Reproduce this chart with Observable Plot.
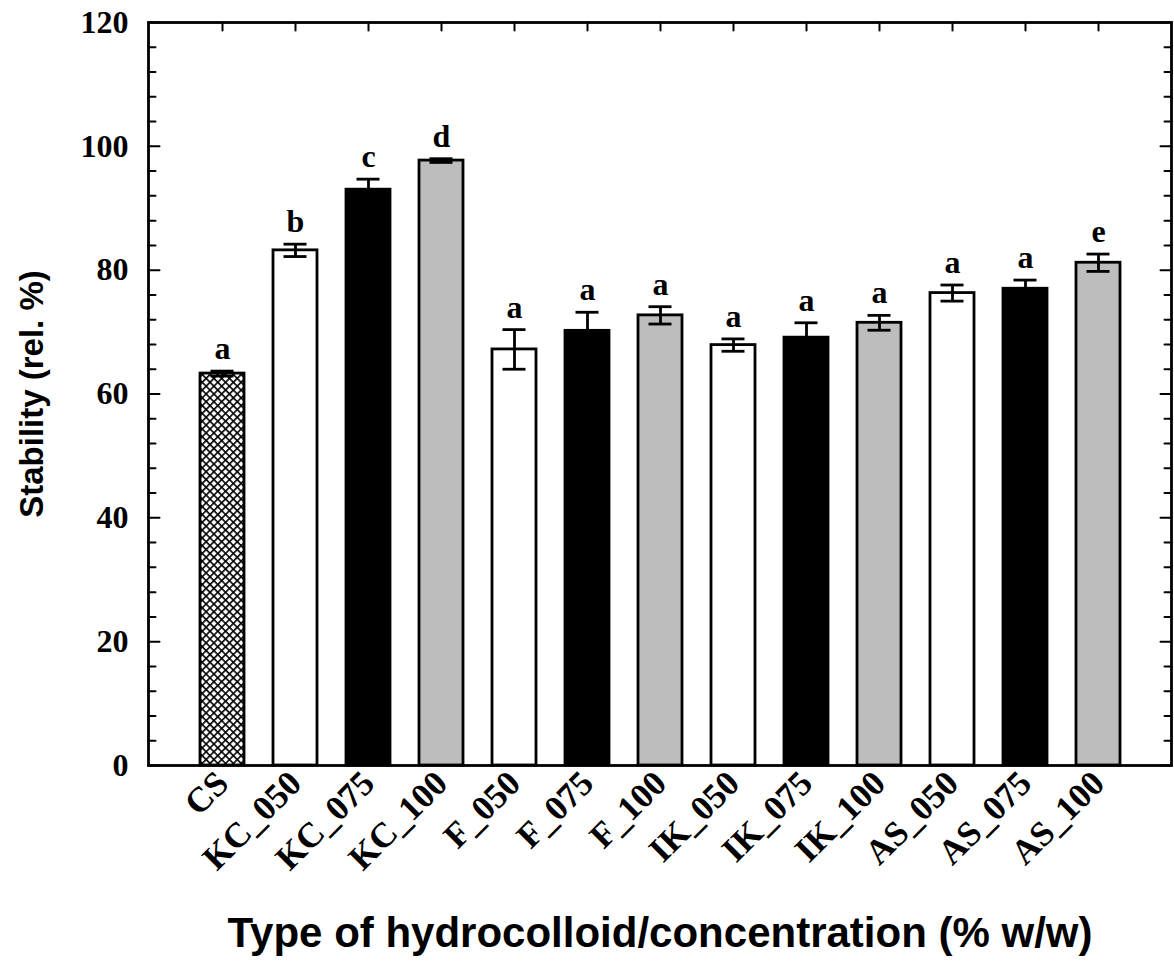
<!DOCTYPE html>
<html>
<head>
<meta charset="utf-8">
<script src="https://cdn.jsdelivr.net/npm/d3@7"></script>
<script src="https://cdn.jsdelivr.net/npm/@observablehq/plot@0.6"></script>
<style>
  html, body { margin: 0; padding: 0; background: #fff; }
</style>
</head>
<body>
<div id="chart"></div>
<script>
const categories = ["CS", "KC_050", "KC_075", "KC_100", "F_050", "F_075", "F_100", "IK_050", "IK_075", "IK_100", "AS_050", "AS_075", "AS_100"];
const values = [63.3, 83.2, 93.0, 97.7, 67.2, 70.2, 72.7, 67.9, 69.1, 71.5, 76.3, 77.0, 81.2];
const errors = [0.4, 1.0, 1.7, 0.3, 3.2, 3.0, 1.4, 1.0, 2.4, 1.2, 1.3, 1.4, 1.4];
const letters = ["a", "b", "c", "d", "a", "a", "a", "a", "a", "a", "a", "a", "e"];
const fills = ["url(#cs-hatch)", "#ffffff", "#000000", "#bdbdbd", "#ffffff", "#000000", "#bdbdbd", "#ffffff", "#000000", "#bdbdbd", "#ffffff", "#000000", "#bdbdbd"];
const yTicks = [0, 20, 40, 60, 80, 100, 120];
const yMinorTicks = [4, 8, 12, 16, 24, 28, 32, 36, 44, 48, 52, 56, 64, 68, 72, 76, 84, 88, 92, 96, 104, 108, 112, 116];
const yTitle = "Stability (rel. %)";
const xTitle = "Type of hydrocolloid/concentration (% w/w)";

const data = categories.map((c, i) => ({cat: c, value: values[i], err: errors[i], letter: letters[i], fill: fills[i]}));

const serif = "'Liberation Serif', 'Times New Roman', serif";
const sans = "'Liberation Sans', Arial, sans-serif";
const tickShape = {draw(context, l) { context.moveTo(0, 0); context.lineTo(0, -l); }};

const svg = Plot.plot({
  width: 1174,
  height: 964,
  marginLeft: 148,
  marginRight: 3,
  marginTop: 22,
  marginBottom: 199,
  x: {type: "band", domain: categories, paddingInner: 0.4, paddingOuter: 0.7, axis: null},
  y: {domain: [0, 120], axis: null},
  color: {type: "identity"},
  marks: [
    Plot.barY(data, {x: "cat", y: "value", fill: "fill", stroke: "#000", strokeWidth: 2.8}),
    Plot.ruleX(data, {x: "cat", y1: d => d.value - d.err, y2: d => d.value + d.err, stroke: "#000", strokeWidth: 2.8}),
    Plot.tickY(data, {x: "cat", y: d => d.value + d.err, inset: 10.5, stroke: "#000", strokeWidth: 2.8}),
    Plot.tickY(data, {x: "cat", y: d => d.value - d.err, inset: 10.5, stroke: "#000", strokeWidth: 2.8}),
    Plot.text(data, {x: "cat", y: d => d.value + d.err, text: "letter", dy: -12, lineAnchor: "bottom", fontFamily: serif, fontWeight: "bold", fontSize: 32, fill: "#000"}),
    Plot.frame({stroke: "#000", strokeWidth: 2.8}),
    Plot.vector(yTicks, {y: d => d, frameAnchor: "left", rotate: 90, length: 11, anchor: "start", shape: tickShape, stroke: "#000", strokeWidth: 2}),
    Plot.vector(yMinorTicks, {y: d => d, frameAnchor: "left", rotate: 90, length: 7, anchor: "start", shape: tickShape, stroke: "#000", strokeWidth: 2}),
    Plot.vector(yTicks, {y: d => d, frameAnchor: "right", rotate: -90, length: 11, anchor: "start", shape: tickShape, stroke: "#000", strokeWidth: 2}),
    Plot.vector(yMinorTicks, {y: d => d, frameAnchor: "right", rotate: -90, length: 7, anchor: "start", shape: tickShape, stroke: "#000", strokeWidth: 2}),
    Plot.vector(categories, {x: d => d, frameAnchor: "top", rotate: 180, length: 8, anchor: "start", shape: tickShape, stroke: "#000", strokeWidth: 2}),
    Plot.axisY({ticks: yTicks, tickSize: 0, tickPadding: 20, label: null, fontFamily: serif, fontWeight: "bold", fontSize: 32, fill: "#000"}),
    Plot.axisX({tickSize: 0, tickPadding: 12, tickRotate: -45, label: null, fontFamily: serif, fontWeight: "bold", fontSize: 35, fill: "#000"}),
    Plot.text([yTitle], {text: d => d, frameAnchor: "left", textAnchor: "middle", lineAnchor: "middle", rotate: -90, dx: -116, fontFamily: sans, fontWeight: "bold", fontSize: 33, fill: "#000"}),
    Plot.text([xTitle], {text: d => d, frameAnchor: "bottom", textAnchor: "middle", lineAnchor: "middle", dy: 168, fontFamily: sans, fontWeight: "bold", fontSize: 42, fill: "#000"})
  ]
});

const ns = "http://www.w3.org/2000/svg";
const defs = document.createElementNS(ns, "defs");
defs.innerHTML = `<pattern id="cs-hatch" width="5.5" height="5.5" patternUnits="userSpaceOnUse" patternTransform="rotate(45)">
  <rect width="5.5" height="5.5" fill="#fff"/>
  <line x1="0" y1="0" x2="5.5" y2="0" stroke="#000" stroke-width="3.2"/>
  <line x1="0" y1="0" x2="0" y2="5.5" stroke="#000" stroke-width="3.2"/>
</pattern>`;
svg.insertBefore(defs, svg.firstChild);
document.getElementById("chart").appendChild(svg);
</script>
</body>
</html>
